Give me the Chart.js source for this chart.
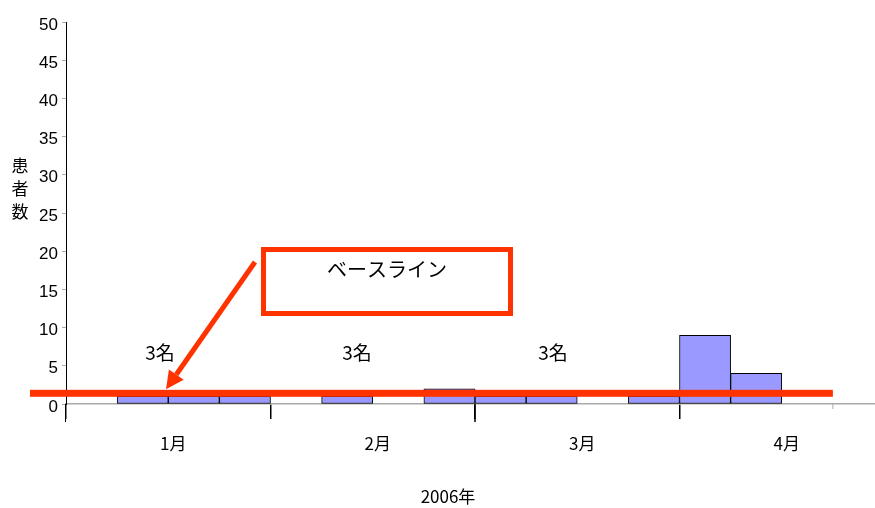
<!DOCTYPE html>
<html>
<head>
<meta charset="utf-8">
<script src="https://cdn.jsdelivr.net/npm/chart.js@4/dist/chart.umd.min.js"></script>
<style>
  html, body { margin: 0; padding: 0; background: #fff; overflow: hidden; }
  #wrap { width: 875px; height: 508px; overflow: hidden; position: relative; }
  canvas { display: block; }
</style>
</head>
<body>
<div id="wrap"><canvas id="c" width="890" height="508"></canvas></div>
<script>
// ---- data ----
const weeks = ['1月第1週','1月第2週','1月第3週','1月第4週',
               '2月第1週','2月第2週','2月第3週','2月第4週',
               '3月第1週','3月第2週','3月第3週','3月第4週',
               '4月第1週','4月第2週','4月第3週','4月第4週'];
const patients = [0, 1, 1, 1, 0, 1, 0, 2, 1, 1, 0, 1, 9, 4, 0, 0];
const months = ['1月', '2月', '3月', '4月'];
const yMin = 0, yMax = 50, yStep = 5;
const baselineValue = 1.4;
const baselineLabel = 'ベースライン';
const groupLabels = ['3名', '3名', '3名'];
const yTitle = ['患', '者', '数'];
const xTitle = '2006年';

const JP = '"Noto Sans CJK JP", "Noto Sans", sans-serif';
const LAT = '"Liberation Sans", Arial, sans-serif';
const RED = '#FF3300';

const overlay = {
  id: 'overlay',
  afterDraw(chart) {
    const ctx = chart.ctx;
    const xs = chart.scales.x, ys = chart.scales.y;
    const area = chart.chartArea;
    ctx.save();
    // y axis extension below zero
    ctx.strokeStyle = '#000';
    ctx.lineWidth = 1;
    ctx.beginPath();
    ctx.moveTo(area.left - 0.5, area.bottom);
    ctx.lineTo(area.left - 0.5, area.bottom + 18);
    ctx.stroke();
    // longer middle month tick
    const slot = xs.getPixelForValue(1) - xs.getPixelForValue(0);
    const midX = xs.getPixelForValue(7) + slot / 2;
    ctx.lineWidth = 1.5;
    ctx.beginPath();
    ctx.moveTo(midX, area.bottom);
    ctx.lineTo(midX, area.bottom + 18);
    ctx.stroke();
    // small gray tick at end of data range
    const endX = xs.getPixelForValue(14) + slot / 2;
    ctx.strokeStyle = '#aaaaaa';
    ctx.lineWidth = 1;
    ctx.beginPath();
    ctx.moveTo(endX, area.bottom);
    ctx.lineTo(endX, area.bottom + 5);
    ctx.stroke();
    // baseline red line
    const by = ys.getPixelForValue(baselineValue);
    ctx.fillStyle = RED;
    ctx.fillRect(30, by - 3.5, endX - 30, 7);
    // box
    ctx.strokeStyle = RED;
    ctx.lineWidth = 5;
    ctx.strokeRect(263.5, 249.5, 247, 64);
    ctx.fillStyle = '#000';
    ctx.font = '20px ' + JP;
    ctx.textAlign = 'center';
    ctx.textBaseline = 'middle';
    ctx.fillText(baselineLabel, 387, 269);
    // arrow
    const x0 = 255, y0 = 262, x1 = 166, y1 = by - 4;
    const ang = Math.atan2(y1 - y0, x1 - x0);
    const hl = 18, hw = 9;
    const bx = x1 - hl * Math.cos(ang), byy = y1 - hl * Math.sin(ang);
    ctx.strokeStyle = RED;
    ctx.lineWidth = 5;
    ctx.beginPath();
    ctx.moveTo(x0, y0);
    ctx.lineTo(bx, byy);
    ctx.stroke();
    ctx.fillStyle = RED;
    ctx.beginPath();
    ctx.moveTo(x1, y1);
    ctx.lineTo(bx + hw * Math.sin(ang), byy - hw * Math.cos(ang));
    ctx.lineTo(bx - hw * Math.sin(ang), byy + hw * Math.cos(ang));
    ctx.closePath();
    ctx.fill();
    // group labels
    ctx.fillStyle = '#000';
    ctx.font = '19px ' + JP;
    const gx = [160, 357, 553];
    groupLabels.forEach((t, i) => ctx.fillText(t, gx[i], 353));
    // y title
    ctx.font = '17px ' + JP;
    yTitle.forEach((t, i) => ctx.fillText(t, 20, 166 + i * 23));
    // x title
    ctx.fillText(xTitle, 448, 497);
    ctx.restore();
  }
};

new Chart(document.getElementById('c'), {
  type: 'bar',
  data: {
    labels: weeks,
    datasets: [{
      data: patients.map(v => v === 0 ? null : v),
      backgroundColor: '#9999FF',
      borderColor: '#000000',
      borderWidth: 1,
      borderSkipped: false,
      barPercentage: 1,
      categoryPercentage: 1,
      xAxisID: 'x'
    }]
  },
  options: {
    responsive: false,
    animation: false,
    devicePixelRatio: 1,
    layout: { padding: { top: 22, right: 6, left: 0, bottom: 0 } },
    plugins: { legend: { display: false }, tooltip: { enabled: false } },
    scales: {
      x: { type: 'category', display: false, offset: true },
      x2: {
        type: 'category',
        labels: months,
        position: 'bottom',
        offset: true,
        afterFit(s) { s.height = 104; },
        border: { display: true, color: '#aaaaaa', width: 1.5 },
        grid: { offset: true, drawOnChartArea: false, drawTicks: true, tickLength: 15, color: '#000', lineWidth: 1.5 },
        ticks: { font: { family: JP, size: 17 }, color: '#000', padding: 14, labelOffset: 5, maxRotation: 0 }
      },
      y: {
        min: yMin, max: yMax,
        afterFit(s) { s.width = 66; },
        border: { display: true, color: '#000', width: 1 },
        grid: { drawOnChartArea: false, drawTicks: true, tickLength: 4, color: '#aaaaaa' },
        ticks: { stepSize: yStep, font: { family: LAT, size: 17 }, color: '#000', padding: 4, labelOffset: 3 }
      }
    }
  },
  plugins: [overlay]
});
</script>
</body>
</html>
